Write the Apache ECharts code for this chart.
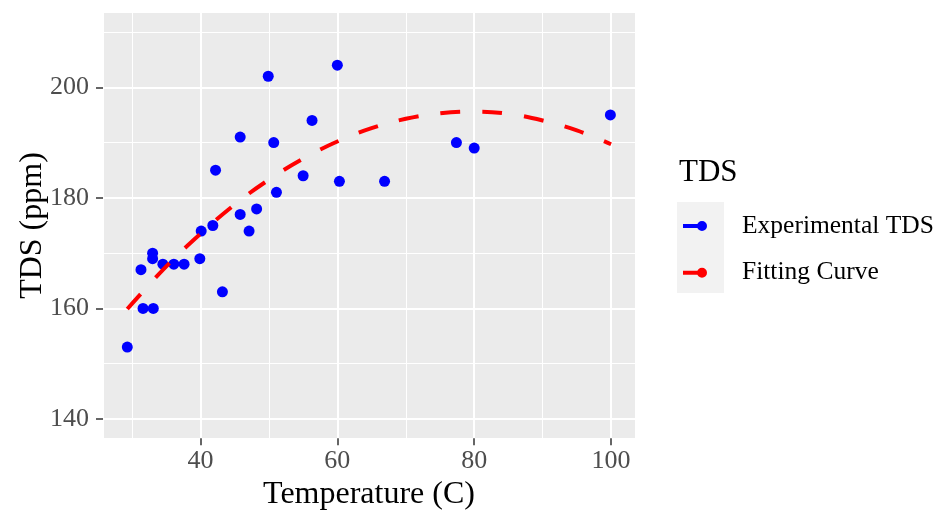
<!DOCTYPE html>
<html><head><meta charset="utf-8">
<script src="https://cdn.jsdelivr.net/npm/echarts@6/dist/echarts.min.js"></script>
<style>html,body{margin:0;padding:0;background:#fff}#c{width:943px;height:512px}</style>
</head><body><div id="c"></div>
<script>
// Experimental measurements
const temperature = [29.3, 31.3, 31.6, 33.1, 33.0, 33.0, 34.5, 36.1, 37.6, 39.9, 40.1, 41.8, 42.2, 43.2, 45.8, 45.8, 47.1, 48.2, 49.9, 50.7, 51.1, 55.0, 56.3, 60.0, 60.3, 66.9, 77.4, 80.0, 99.9];
const tdsValues   = [153, 167, 160, 160, 170, 169, 168, 168, 168, 169, 174, 175, 185, 163, 177, 191, 174, 178, 202, 190, 181, 184, 194, 204, 183, 183, 190, 189, 195];
// Fitting curve
const fitTemperature = [29.3, 35, 40, 45, 50, 55, 60, 65, 70, 75, 80, 85, 90, 95, 100];
const fitTds         = [159.9, 167.6, 173.5, 178.8, 183.3, 187.1, 190.2, 192.6, 194.3, 195.3, 195.6, 195.2, 194.0, 192.2, 189.7];
// Tick labels
const xTickLabels = [40, 60, 80, 100];
const yTickLabels = [140, 160, 180, 200];
const seriesNames = ['Experimental TDS', 'Fitting Curve'];
const legendTitle = 'TDS';
const xTitle = 'Temperature (C)';
const yTitle = 'TDS (ppm)';

const FONT = 'Liberation Serif';
const xRange = [25.75, 103.5];
const yRange = [136.5, 213.5];
const iconPath = 'path://M0,3L17,3L17,7L0,7Z M24,5A5,5,0,1,1,14,5A5,5,0,1,1,24,5Z';

const chart = echarts.init(document.getElementById('c'), null, {renderer: 'canvas'});
chart.setOption({
  animation: false,
  backgroundColor: '#FFFFFF',
  title: {
    text: legendTitle, left: 679, top: 157, padding: 0,
    textStyle: {fontFamily: FONT, fontSize: 31, fontWeight: 'normal', color: '#000', lineHeight: 31}
  },
  graphic: [{
    type: 'rect', z: 0, left: 677, top: 202,
    shape: {width: 47, height: 91}, style: {fill: '#F2F2F2'}
  }],
  legend: {
    orient: 'vertical', left: 683, top: 213, padding: 0,
    itemWidth: 24, itemHeight: 10, itemGap: 20.7,
    data: [
      {name: seriesNames[0], icon: iconPath, itemStyle: {color: '#0000FF', borderWidth: 0}},
      {name: seriesNames[1], icon: iconPath, itemStyle: {color: '#FF0000', borderWidth: 0}}
    ],
    lineStyle: {width: 0},
    textStyle: {fontFamily: FONT, fontSize: 25.5, color: '#000', lineHeight: 26, padding: [0, 0, 0, 30]}
  },
  grid: {left: 103, right: 308, top: 12.7, bottom: 73.7, show: true, backgroundColor: '#EBEBEB', borderWidth: 0, containLabel: false, outerBoundsMode: 'none'},
  xAxis: [{
    type: 'value', min: xRange[0], max: xRange[1], splitNumber: 4, position: 'bottom',
    axisLine: {show: false},
    axisTick: {show: true, length: 7, lineStyle: {color: '#333333', width: 1.5}, customValues: xTickLabels},
    axisLabel: {show: true, margin: 10, fontFamily: FONT, fontSize: 26, color: '#4D4D4D', customValues: xTickLabels},
    splitLine: {show: true, lineStyle: {color: '#FFFFFF', width: 2}},
    name: xTitle, nameLocation: 'middle', nameGap: 40, nameMoveOverlap: false,
    nameTextStyle: {fontFamily: FONT, fontSize: 32, color: '#000'}
  }, {
    type: 'value', min: xRange[0], max: xRange[1], splitNumber: 8, position: 'top',
    axisLine: {show: false}, axisTick: {show: false}, axisLabel: {show: false},
    splitLine: {show: true, lineStyle: {color: '#FFFFFF', width: 1}}
  }],
  yAxis: [{
    type: 'value', min: yRange[0], max: yRange[1], splitNumber: 4, position: 'left',
    axisLine: {show: false},
    axisTick: {show: true, length: 7, lineStyle: {color: '#333333', width: 1.5}, customValues: yTickLabels},
    axisLabel: {show: true, margin: 14, fontFamily: FONT, fontSize: 26, color: '#4D4D4D', customValues: yTickLabels},
    splitLine: {show: true, lineStyle: {color: '#FFFFFF', width: 2}},
    name: yTitle, nameLocation: 'middle', nameGap: 54, nameRotate: 90, nameMoveOverlap: false,
    nameTextStyle: {fontFamily: FONT, fontSize: 32, color: '#000'}
  }, {
    type: 'value', min: yRange[0], max: yRange[1], splitNumber: 8, position: 'right',
    axisLine: {show: false}, axisTick: {show: false}, axisLabel: {show: false},
    splitLine: {show: true, lineStyle: {color: '#FFFFFF', width: 1}}
  }],
  series: [{
    name: seriesNames[0], type: 'scatter', xAxisIndex: 0, yAxisIndex: 0, z: 3,
    symbol: 'circle', symbolSize: 11,
    itemStyle: {color: '#0000FF', opacity: 1},
    data: temperature.map((t, i) => [t, tdsValues[i]])
  }, {
    name: seriesNames[1], type: 'line', xAxisIndex: 0, yAxisIndex: 0, z: 4,
    showSymbol: false, symbol: 'none', smooth: 0.4,
    itemStyle: {color: '#FF0000'},
    lineStyle: {color: '#FF0000', width: 4, type: [20, 22], cap: 'butt'},
    data: fitTemperature.map((t, i) => [t, fitTds[i]])
  }]
});
</script>
</body></html>
